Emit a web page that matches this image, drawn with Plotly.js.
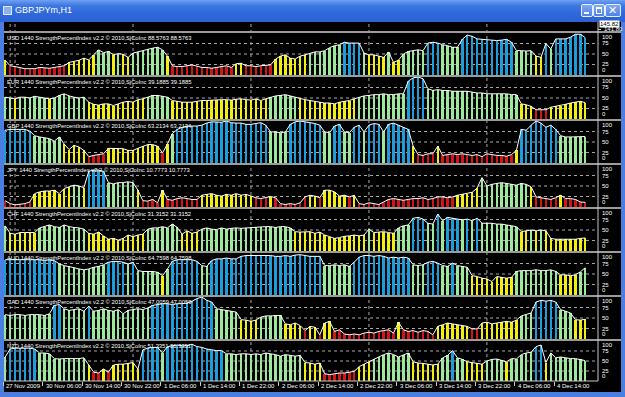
<!DOCTYPE html>
<html><head><meta charset="utf-8">
<script src="https://cdn.plot.ly/plotly-3.0.1.min.js"></script>
<style>
html,body{margin:0;padding:0;background:#fff;}
#win{position:relative;width:625px;height:397px;background:#4a7ee0;overflow:hidden;font-family:"Liberation Sans",Arial,sans-serif;}
#tb{position:absolute;left:0;top:0;width:625px;height:22px;background:linear-gradient(#6fa0f2 0%,#3f78e4 25%,#2f68da 60%,#2a62d4 100%);}
#ttl{position:absolute;left:15px;top:5px;color:#fff;font-size:9px;}
#ico{position:absolute;left:3px;top:6px;width:7px;height:7px;border:1px solid #dfe8ff;background:#8fb0f0;}
.btn{position:absolute;top:4px;height:11px;border:1px solid #e8f0ff;border-radius:2px;background:linear-gradient(#7fa8f4,#4f82e6);}
#chart{position:absolute;left:0;top:0;width:625px;height:397px;}
</style></head>
<body>
<div id="win">
 <div id="tb"></div>
 <div id="ico"></div>
 <div id="ttl">GBPJPYm,H1</div>
 <div class="btn" style="left:581px;width:10px;"><div style="position:absolute;left:2px;top:7px;width:5px;height:2px;background:#fff"></div></div>
 <div class="btn" style="left:593px;width:10px;"><div style="position:absolute;left:2px;top:2px;width:4px;height:4px;border:1px solid #fff;border-top-width:2px"></div></div>
 <div class="btn" style="left:605px;width:14px;"><div style="position:absolute;left:2px;top:-1px;color:#fff;font-size:11px;font-family:'DejaVu Sans';">✕</div></div>
 <div id="chart"></div>
</div>
<script>
// ---------- data ----------
const currencies = ["USD","EUR","GBP","JPY","CHF","AUD","CAD","NZD"];
const lastValues = ["88.5763","39.1885","63.2134","10.7773","31.3152","64.7598","47.0059","51.3351"];
const tickLabels = ["27 Nov 2009","30 Nov 06:00","30 Nov 14:00","30 Nov 22:00","1 Dec 06:00","1 Dec 14:00","1 Dec 22:00","2 Dec 06:00","2 Dec 14:00","2 Dec 22:00","3 Dec 06:00","3 Dec 14:00","3 Dec 22:00","4 Dec 06:00","4 Dec 14:00"];
const priceLast = "145.82";
const priceLevel = "141.80";
const levels = [100,75,50,25,0];

const usd = [35,22,20,18,15,15,15,18,17,16, 18,20,22,30,32,35,40,36,48,60, 53,56,48,51,49,42,52,55,58,62, 64,66,60,45,22,20,20,22,24,21, 18,18,16,18,20,22,18,27,28,22, 22,20,22,23,24,38,45,48,40,38, 45,48,52,55,55,58,65,70,72,78, 76,76,76,52,48,48,45,42,55,30, 35,50,56,58,60,58,76,78,76,72, 70,66,66,85,95,92,86,85,84,83, 82,83,85,78,58,58,57,58,45,42, 75,62,86,86,86,90,97,97,89];
const eur = [52,50,48,52,52,50,54,52,50,48, 50,56,60,55,52,50,52,40,35,33, 36,36,32,36,40,42,40,46,48,52, 56,56,54,52,44,42,40,40,40,42, 44,44,45,45,46,46,45,47,48,46, 45,48,44,48,52,55,56,58,55,52, 48,46,44,42,40,38,38,36,40,42, 44,48,52,55,56,58,58,60,58,58, 60,60,90,98,100,96,72,68,70,68, 68,66,66,66,66,64,62,62,60,60, 60,60,60,58,58,36,34,30,22,22, 22,28,30,32,35,38,40,42,39];
const gbp = [78,80,80,80,80,76,65,62,60,58, 52,62,45,32,42,38,30,15,18,20, 22,35,35,35,34,30,30,35,40,44, 44,40,24,45,70,80,85,88,88,88, 90,95,98,98,97,100,96,95,95,92, 92,94,96,90,74,74,72,74,92,98, 100,98,96,94,90,74,72,88,92,74, 72,85,90,74,90,94,92,74,92,95, 90,85,80,40,20,18,22,22,40,18, 20,22,20,22,20,18,20,15,22,20, 18,18,16,20,30,80,78,90,100,95, 85,90,80,65,62,62,62,62,63];
const jpy = [15,8,5,6,8,12,32,36,38,38, 40,32,44,48,52,50,46,85,88,88, 85,58,55,58,58,60,58,40,15,14, 18,10,40,18,16,20,22,20,18,18, 28,30,32,28,26,30,28,32,28,30, 26,22,20,22,25,22,8,6,8,6, 10,24,28,26,22,40,40,36,26,28, 24,28,8,6,10,8,6,12,18,20, 18,16,18,20,20,22,18,20,24,24, 22,24,28,30,32,35,45,70,50,54, 56,58,56,54,52,56,54,48,24,22, 20,18,22,28,20,20,18,12,11];
const chf = [60,42,40,44,44,44,44,55,58,62, 58,56,62,58,56,55,52,42,40,45, 36,28,30,26,30,38,34,38,40,52, 55,55,58,55,64,56,40,48,42,45, 52,55,52,51,55,52,54,55,54,55, 56,56,57,58,58,56,58,58,55,46, 45,46,46,42,45,38,34,30,32,35, 36,38,36,38,52,44,45,46,44,42, 55,60,62,78,80,76,66,64,88,72, 80,78,76,74,76,72,78,66,66,66, 64,64,62,60,58,46,48,50,48,50, 48,30,28,28,28,28,28,30,31];
const aud = [84,84,84,84,85,84,84,84,82,84, 82,74,70,68,65,62,60,62,66,68, 72,78,80,80,78,74,78,58,56,56, 56,54,46,62,80,84,84,84,84,80, 70,68,82,86,86,88,86,86,92,94, 94,95,94,94,94,92,92,94,92,95, 96,94,92,92,92,70,70,72,70,72, 68,78,90,94,94,92,94,92,88,90, 88,90,88,72,70,72,78,80,76,70, 68,76,70,68,66,46,44,40,38,32, 44,42,40,42,56,58,58,58,60,58, 58,60,56,48,48,46,48,55,65];
const cad = [58,56,58,58,56,58,58,58,56,60, 80,82,72,68,70,72,66,78,66,68, 72,68,66,70,60,68,70,72,70,74, 80,82,84,84,82,84,84,86,90,96, 100,92,88,72,70,68,66,64,46,45, 42,45,52,55,55,56,56,36,34,38, 32,20,30,28,10,38,42,18,22,12, 10,12,10,14,16,14,18,20,22,14, 40,22,18,20,16,20,18,10,30,34, 38,36,34,32,30,24,24,38,40,36, 38,40,42,40,45,55,58,62,88,92, 90,92,88,70,66,62,46,45,47];
const nzd = [60,80,82,82,82,82,80,70,70,68, 56,55,56,56,56,56,58,40,22,20, 30,22,40,42,42,44,46,30,78,82, 84,84,70,86,88,90,88,88,92,86, 84,80,78,76,76,68,68,66,68,68, 66,68,66,70,68,66,62,66,64,62, 64,46,45,42,45,18,16,18,20,20, 22,24,36,42,48,55,60,66,70,66, 60,66,70,48,45,44,42,40,42,58, 64,76,58,54,48,46,44,42,50,54, 55,52,48,56,55,66,70,72,86,90, 46,70,58,60,58,56,56,54,51];
const series = [usd,eur,gbp,jpy,chf,aud,cad,nzd];

// ---------- geometry (pixels of the 625x397 page) ----------
const W=625,H=397;
const px=x=>x/W, py=y=>1-y/H;
const panelTops=[33,77,121,165,209,253,297,341];
const panelBots=[75,119,163,207,251,295,339,381];
const sepY=[32,76,120,164,208,252,296,340];
const n=usd.length;
const idx=[...Array(n).keys()];
const gridIdx=[1,2,26,50,74,98];
const tickPos=tickLabels.map((t,k)=>k*8-0.35);
function colorOf(v){ if(v>=75) return '#1f9cda'; if(v>=50) return '#9ee89c'; if(v>=25) return '#f2ee12'; return '#d21616'; }

const traces=[]; const layout={
  width:W,height:H,margin:{l:0,r:0,t:0,b:0},
  paper_bgcolor:'rgba(0,0,0,0)',plot_bgcolor:'rgba(0,0,0,0)',
  showlegend:false,bargap:0,
  font:{family:'Liberation Sans, Arial, sans-serif',color:'#ffffff',size:6},
  xaxis:{domain:[px(3),px(598)],range:[-0.45,120.6],anchor:'y9',showgrid:false,zeroline:false,showline:false,
         tickmode:'array',tickvals:tickPos,ticktext:tickLabels.map(()=>''),
         ticks:'outside',ticklen:4,tickwidth:1,tickcolor:'#c8c8c8',showticklabels:false,fixedrange:true},
  yaxis:{domain:[py(31),py(22)],range:[0,1],showgrid:false,zeroline:false,showticklabels:false,fixedrange:true},
  shapes:[],annotations:[]
};
// background
layout.shapes.push({type:'rect',xref:'paper',yref:'paper',x0:px(4),x1:px(621),y0:py(392),y1:py(22),fillcolor:'#000',line:{width:0},layer:'below'});
// vertical dotted grid
gridIdx.forEach(g=>layout.shapes.push({type:'line',xref:'x',yref:'paper',x0:g,x1:g,y0:py(381),y1:py(22),line:{color:'#a8a8a8',width:1,dash:'dot'},layer:'below'}));

series.forEach((vals,p)=>{
  const ya='y'+(p+2), yk='yaxis'+(p+2);
  layout[yk]={domain:[py(panelBots[p]),py(panelTops[p])],range:[0,100],anchor:'x',showgrid:false,zeroline:false,showticklabels:false,fixedrange:true};
  [25,50,75].forEach(lv=>layout.shapes.push({type:'line',xref:'paper',yref:ya,x0:px(4),x1:px(598),y0:lv,y1:lv,line:{color:'#a8a8a8',width:1,dash:'dot'},layer:'below'}));
  traces.push({type:'bar',x:idx,y:vals,xaxis:'x',yaxis:ya,width:0.5,marker:{color:vals.map(colorOf),line:{width:0}},hoverinfo:'skip'});
  traces.push({type:'scatter',mode:'lines',x:idx,y:vals,xaxis:'x',yaxis:ya,line:{color:'#ffffff',width:1},hoverinfo:'skip'});
  layout.annotations.push({xref:'paper',yref:'paper',x:px(5),y:py(panelTops[p]+5),xanchor:'left',yanchor:'middle',showarrow:false,
    text:currencies[p]+' 1440 StrengthPercentIndex v2.2 © 2010,SjCoInc '+lastValues[p]+' '+lastValues[p],font:{size:5.8,color:'#ffffff'}});
  levels.forEach(lv=>{
    let ya2='middle', ys=0;
    if(lv===100){ya2='top';ys=1;} if(lv===0){ya2='bottom';}
    layout.annotations.push({xref:'paper',yref:ya,x:px(600),y:lv,xanchor:'left',yanchor:ya2,yshift:ys,showarrow:false,text:String(lv),font:{size:6,color:'#ffffff'}});
  });
});
// separators
sepY.forEach(y=>layout.shapes.push({type:'line',xref:'paper',yref:'paper',x0:px(4),x1:px(621),y0:py(y),y1:py(y),line:{color:'#9c9c9c',width:2},layer:'above'}));
// axis lines
layout.shapes.push({type:'line',xref:'paper',yref:'paper',x0:px(598),x1:px(598),y0:py(381),y1:py(22),line:{color:'#c8c8c8',width:1},layer:'above'});
layout.shapes.push({type:'line',xref:'paper',yref:'paper',x0:px(4),x1:px(598),y0:py(381),y1:py(381),line:{color:'#c8c8c8',width:1},layer:'above'});
layout.shapes.push({type:'line',xref:'paper',yref:'paper',x0:px(598),x1:px(601),y0:py(29.5),y1:py(29.5),line:{color:'#c8c8c8',width:1},layer:'above'});
// price labels
layout.annotations.push({xref:'paper',yref:'paper',x:px(599),y:py(20.5),xanchor:'left',yanchor:'top',showarrow:false,text:priceLast,bgcolor:'#ffffff',borderpad:0,font:{size:6,color:'#000000'}});
layout.annotations.push({xref:'paper',yref:'paper',x:px(602),y:py(29.5),xanchor:'left',yanchor:'middle',showarrow:false,text:priceLevel,font:{size:6,color:'#ffffff'}});
// x tick labels
tickLabels.forEach((t,k)=>layout.annotations.push({xref:'x',yref:'paper',x:tickPos[k],y:py(385.5),xanchor:'left',yanchor:'middle',xshift:1,showarrow:false,text:t,font:{size:6,color:'#ffffff'}}));

Plotly.newPlot('chart',traces,layout,{staticPlot:true,displayModeBar:false});
</script>
</body></html>
